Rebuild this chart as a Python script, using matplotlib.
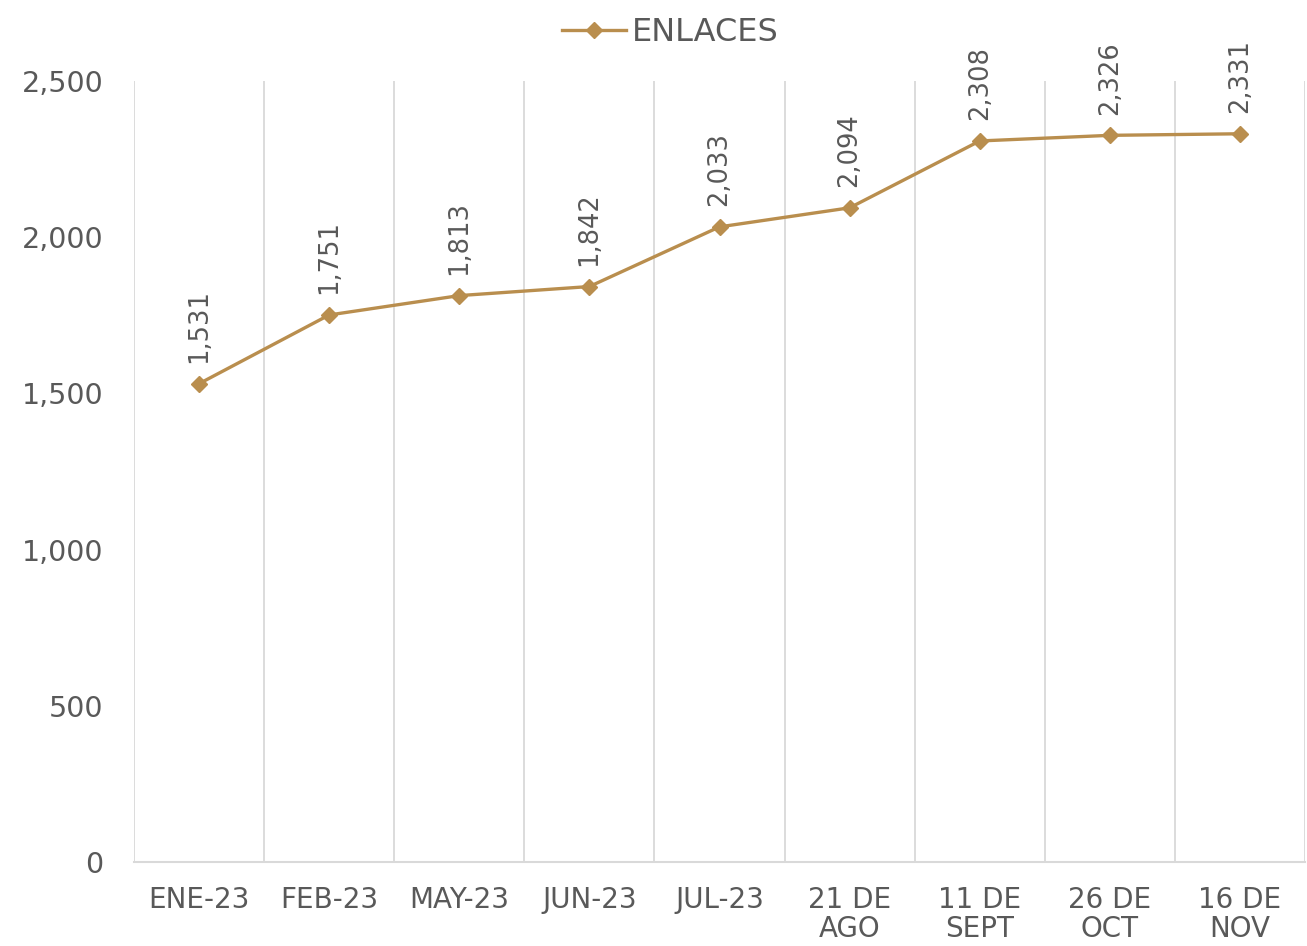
from matplotlib import pyplot
import numpy

categories = ['ENE-23', 'FEB-23', 'MAY-23', 'JUN-23', 'JUL-23',
              '21 DE\nAGO', '11 DE\nSEPT', '26 DE\nOCT', '16 DE\nNOV']
enlaces = [1531, 1751, 1813, 1842, 2033, 2094, 2308, 2326, 2331]
y_ticks = [0, 500, 1000, 1500, 2000, 2500]

LINE_COLOR = '#B98E4E'
TEXT_COLOR = '#595959'
GRID_COLOR = '#D9D9D9'

pyplot.rcParams['font.family'] = ['DejaVu Sans']
fig = pyplot.figure(figsize=(13.07, 9.46), dpi=100)
axis = fig.add_axes([0.1025, 0.0888, 0.896, 0.8256])

x = numpy.arange(len(categories))
axis.plot(x, enlaces, color=LINE_COLOR, linewidth=2.4, marker='D',
          markersize=8.5, label='ENLACES', zorder=3)

for xi, val in zip(x, enlaces):
    axis.annotate(f'{val:,}', (xi, val), xytext=(0, 15), textcoords='offset points',
                  rotation=90, ha='center', va='bottom', fontsize=18.5,
                  color=TEXT_COLOR)

axis.set_xlim(-0.5, len(categories) - 0.5)
axis.set_ylim(0, 2500)
axis.set_yticks(y_ticks)
axis.set_yticklabels([f'{v:,}' for v in y_ticks])
axis.set_xticks(x)
axis.set_xticklabels(categories, linespacing=1.05)

for b in numpy.arange(-0.5, len(categories) + 0.5, 1.0):
    axis.axvline(b, color=GRID_COLOR, linewidth=1.3, zorder=1)

for side in ['left', 'right', 'top']:
    axis.spines[side].set_visible(False)
axis.spines['bottom'].set_color(GRID_COLOR)
axis.spines['bottom'].set_linewidth(1.5)

axis.tick_params(axis='y', length=0, pad=22, labelsize=20.5, labelcolor=TEXT_COLOR)
axis.tick_params(axis='x', length=0, pad=17, labelsize=20, labelcolor=TEXT_COLOR)

fig.legend(loc='upper center', bbox_to_anchor=(0.513, 1.012), frameon=False,
           fontsize=23, labelcolor=TEXT_COLOR, handlelength=2.0, handletextpad=0.2)

fig.savefig('out.png', dpi=100)
pyplot.close(fig)
